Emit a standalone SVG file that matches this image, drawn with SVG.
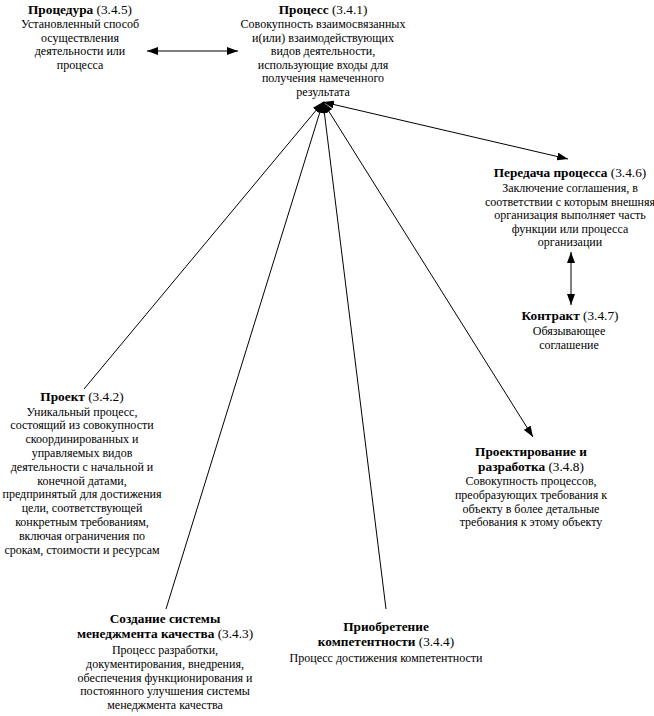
<svg xmlns="http://www.w3.org/2000/svg" width="654" height="716" viewBox="0 0 654 716" font-family="'Liberation Serif', 'Times New Roman', 'DejaVu Serif', serif">
<style>
text { font-family: "Liberation Serif", "Times New Roman", "DejaVu Serif", serif; fill: #000; text-anchor: middle; }
.t { font-size: 13.3px; font-weight: bold; }
.t tspan.n { font-weight: normal; }
.b { font-size: 12px; }
.c { stroke: #000; stroke-width: 1; fill: none; }
</style>
<defs>
<marker id="ah" markerUnits="userSpaceOnUse" markerWidth="11" markerHeight="8" refX="11" refY="4" orient="auto-start-reverse">
<path d="M0,0 L11,4 L0,8 z" fill="#000"/>
</marker>
</defs>
<rect width="654" height="716" fill="#fff"/>
<g id="connectors">
<line class="c" x1="147" y1="51" x2="238" y2="51" marker-start="url(#ah)" marker-end="url(#ah)"/>
<line class="c" x1="323" y1="102" x2="568" y2="159" marker-start="url(#ah)" marker-end="url(#ah)"/>
<line class="c" x1="571" y1="252" x2="571" y2="305" marker-start="url(#ah)" marker-end="url(#ah)"/>
<line class="c" x1="323" y1="102" x2="533" y2="437" marker-start="url(#ah)" marker-end="url(#ah)"/>
<line class="c" x1="84" y1="389" x2="323" y2="102" marker-end="url(#ah)"/>
<line class="c" x1="166" y1="609" x2="323" y2="102" marker-end="url(#ah)"/>
<line class="c" x1="386" y1="609" x2="323" y2="102" marker-end="url(#ah)"/>
</g>
<g id="procedura" font-family="'Liberation Serif', 'Times New Roman', serif">
<text class="t" x="80" y="13.5">Процедура <tspan class="n">(3.4.5)</tspan></text>
<text class="b" x="80" y="28">Установленный способ</text>
<text class="b" x="80" y="41.7">осуществления</text>
<text class="b" x="80" y="55.4">деятельности или</text>
<text class="b" x="80" y="69.1">процесса</text>
</g>
<g id="process" font-family="'Liberation Serif', 'Times New Roman', serif">
<text class="t" x="323" y="13.5">Процесс <tspan class="n">(3.4.1)</tspan></text>
<text class="b" x="323" y="28">Совокупность взаимосвязанных</text>
<text class="b" x="323" y="41.6">и(или) взаимодействующих</text>
<text class="b" x="323" y="55.2">видов деятельности,</text>
<text class="b" x="323" y="68.8">использующие входы для</text>
<text class="b" x="323" y="82.4">получения намеченного</text>
<text class="b" x="323" y="96">результата</text>
</g>
<g id="peredacha" font-family="'Liberation Serif', 'Times New Roman', serif">
<text class="t" x="570" y="177">Передача процесса <tspan class="n">(3.4.6)</tspan></text>
<text class="b" x="570" y="192">Заключение соглашения, в</text>
<text class="b" x="570" y="205.6">соответствии с которым внешняя</text>
<text class="b" x="570" y="219.2">организация выполняет часть</text>
<text class="b" x="570" y="232.8">функции или процесса</text>
<text class="b" x="570" y="246.4">организации</text>
</g>
<g id="kontrakt" font-family="'Liberation Serif', 'Times New Roman', serif">
<text class="t" x="570" y="320">Контракт <tspan class="n">(3.4.7)</tspan></text>
<text class="b" x="569" y="335">Обязывающее</text>
<text class="b" x="569" y="348.6">соглашение</text>
</g>
<g id="proekt" font-family="'Liberation Serif', 'Times New Roman', serif">
<text class="t" x="82" y="401">Проект <tspan class="n">(3.4.2)</tspan></text>
<text class="b" x="82" y="415.5">Уникальный процесс,</text>
<text class="b" x="82" y="429.3">состоящий из совокупности</text>
<text class="b" x="82" y="443.1">скоординированных и</text>
<text class="b" x="82" y="456.9">управляемых видов</text>
<text class="b" x="82" y="470.7">деятельности с начальной и</text>
<text class="b" x="82" y="484.5">конечной датами,</text>
<text class="b" x="82" y="498.3">предпринятый для достижения</text>
<text class="b" x="82" y="512.1">цели, соответствующей</text>
<text class="b" x="82" y="525.9">конкретным требованиям,</text>
<text class="b" x="82" y="539.7">включая ограничения по</text>
<text class="b" x="82" y="553.5">срокам, стоимости и ресурсам</text>
</g>
<g id="proektirovanie" font-family="'Liberation Serif', 'Times New Roman', serif">
<text class="t" x="531" y="456">Проектирование и</text>
<text class="t" x="531" y="470.8">разработка <tspan class="n">(3.4.8)</tspan></text>
<text class="b" x="531" y="485">Совокупность процессов,</text>
<text class="b" x="531" y="498.8">преобразующих требования к</text>
<text class="b" x="531" y="512.6">объекту в более детальные</text>
<text class="b" x="531" y="526.4">требования к этому объекту</text>
</g>
<g id="sozdanie" font-family="'Liberation Serif', 'Times New Roman', serif">
<text class="t" x="165" y="623">Создание системы</text>
<text class="t" x="165" y="638">менеджмента качества <tspan class="n">(3.4.3)</tspan></text>
<text class="b" x="165" y="654">Процесс разработки,</text>
<text class="b" x="165" y="667.8">документирования, внедрения,</text>
<text class="b" x="165" y="681.6">обеспечения функционирования и</text>
<text class="b" x="165" y="695.4">постоянного улучшения системы</text>
<text class="b" x="165" y="709.2">менеджмента качества</text>
</g>
<g id="priobretenie" font-family="'Liberation Serif', 'Times New Roman', serif">
<text class="t" x="386" y="631">Приобретение</text>
<text class="t" x="386" y="646">компетентности <tspan class="n">(3.4.4)</tspan></text>
<text class="b" x="386" y="662">Процесс достижения компетентности</text>
</g>
</svg>
